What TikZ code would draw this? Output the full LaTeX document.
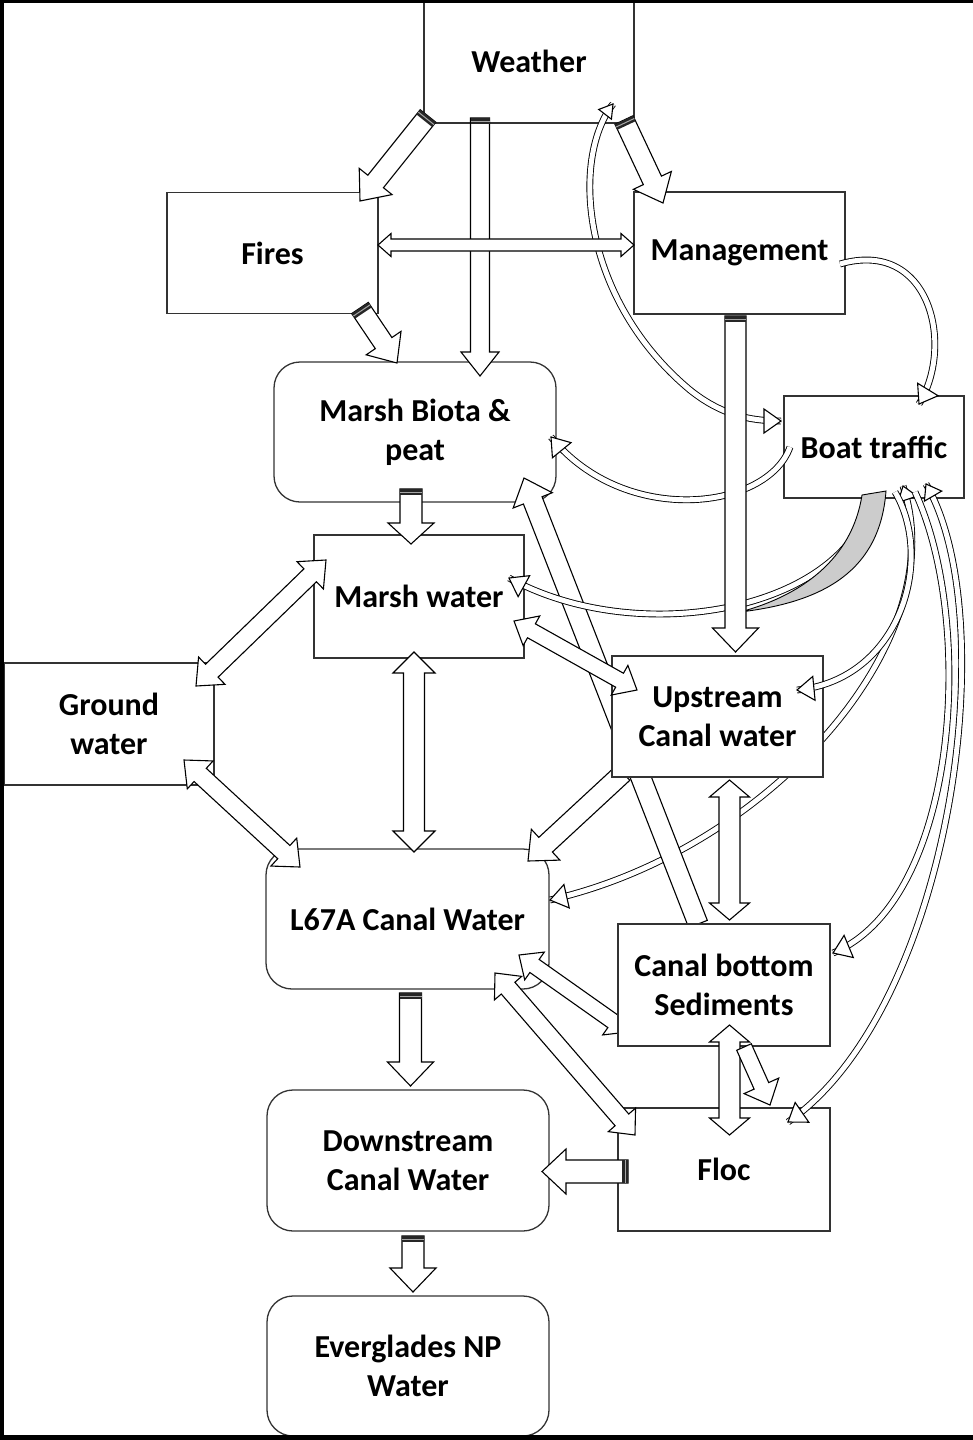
\documentclass[tikz,border=0pt]{standalone}
\usepackage{fontspec}
\setmainfont{Carlito}
\usetikzlibrary{calc}
\tikzset{
  box/.style={draw=black!80, line width=1.3pt, fill=white, rectangle, inner sep=0pt, align=center, font=\bfseries\fontsize{32}{39}\selectfont},
  rbox/.style={box, rounded corners=26pt},
  blk/.style={draw=black, fill=white, line width=1.1pt, line join=miter},
  tube/.style={draw=black, double=white, double distance=5pt, line width=0.9pt},
  crescent/.style={draw=black, fill=gray!40, line width=0.9pt},
}
% single block arrow: tail, tip, half shaft, half head, head length
\newcommand\sarr[5]{%
  \coordinate (bA) at ($(#2)!#5!(#1)$);
  \draw[blk] ($(#1)!#3!90:(#2)$) -- ($(bA)!#3!-90:(#1)$) -- ($(bA)!#4!-90:(#1)$) -- (#2) -- ($(bA)!#4!90:(#1)$) -- ($(bA)!#3!90:(#1)$) -- ($(#1)!#3!-90:(#2)$) -- cycle;
}
% double block arrow
\newcommand\darr[5]{%
  \coordinate (bA) at ($(#2)!#5!(#1)$);
  \coordinate (bB) at ($(#1)!#5!(#2)$);
  \draw[blk] (#1) -- ($(bB)!#4!90:(#2)$) -- ($(bB)!#3!90:(#2)$) -- ($(bA)!#3!-90:(#1)$) -- ($(bA)!#4!-90:(#1)$) -- (#2) -- ($(bA)!#4!90:(#1)$) -- ($(bA)!#3!90:(#1)$) -- ($(bB)!#3!-90:(#2)$) -- ($(bB)!#4!-90:(#2)$) -- cycle;
}
% dark band at the tail of an arrow
\newcommand\band[3]{%
  \coordinate (bC) at ($(#1)!6pt!(#2)$);
  \coordinate (bD) at ($(#1)!3pt!(#2)$);
  \fill[black!85] ($(#1)!#3!90:(#2)$) -- ($(#1)!#3!-90:(#2)$) -- ($(bC)!#3!90:(#1)$) -- ($(bC)!#3!-90:(#1)$) -- cycle;
  \draw[black!35, line width=1pt] ($(bD)!#3!90:(#2)$) -- ($(bD)!#3!-90:(#2)$);
}
% head of a curved tube arrow: direction point, tip, half width, length
\newcommand\chead[4]{%
  \coordinate (bE) at ($(#2)!#4!(#1)$);
  \draw[blk] (#2) -- ($(bE)!#3!90:(#2)$) -- ($(bE)!#3!-90:(#2)$) -- cycle;
}
\begin{document}
\begin{tikzpicture}[x=1pt, y=-1pt]
\useasboundingbox (0,0) rectangle (973,1440);
\fill[white] (0,0) rectangle (973,1440);

% ---- boxes (first group)
\node[box, minimum width=210pt, minimum height=123pt] (weather) at (529,61.5) {Weather};
\node[box, minimum width=211pt, minimum height=121pt] (fires) at (272.5,253) {Fires};
\node[box, minimum width=211pt, minimum height=122pt] (mgmt) at (739.5,253) {Management};
\node[rbox, minimum width=282pt, minimum height=140pt] (biota) at (415,432) {Marsh Biota \&\\peat};
\node[box, minimum width=180pt, minimum height=102pt] (boat) at (874,447) {Boat traffic};
\node[box, minimum width=210pt, minimum height=123pt] (mwater) at (419,596.5) {Marsh water};
\node[box, minimum width=210pt, minimum height=122pt] (ground) at (109,724) {Ground\\water};
\node[rbox, minimum width=283pt, minimum height=140pt] (l67a) at (407.5,919) {L67A Canal Water};
\node[rbox, minimum width=282pt, minimum height=141pt] (down) at (408,1160.5) {Downstream\\Canal Water};
\node[rbox, minimum width=282pt, minimum height=140pt] (evg) at (408,1366) {Everglades NP\\Water};
\node[box, minimum width=212pt, minimum height=123pt] (floc) at (724,1169.5) {Floc};

% ---- curve boat -> L67A (behind upstream box)
\coordinate (b6s) at (903,486); \coordinate (b6a) at (955,640);
\coordinate (b6b) at (770,850); \coordinate (b6e) at (550,900);
\draw[tube] (b6s) .. controls (b6a) and (b6b) .. (b6e);
\chead{b6b}{b6e}{12pt}{17pt}
\chead{b6a}{b6s}{10pt}{14pt}

% ---- sediments -> marsh biota, upstream -> L67A (behind upstream box)
\coordinate (a13t) at (698,924); \coordinate (a13h) at (524,478);
\sarr{a13t}{a13h}{10pt}{21pt}{24pt}
\coordinate (a12t) at (623,773); \coordinate (a12h) at (528,861);
\sarr{a12t}{a12h}{10pt}{21pt}{24pt}

\node[box, minimum width=211pt, minimum height=121pt] (up) at (717.5,716.5) {Upstream\\Canal water};

% ---- L67A <-> sediments (behind sediments box)
\coordinate (a18a) at (519,955); \coordinate (a18b) at (628,1032);
\darr{a18a}{a18b}{8pt}{17pt}{19pt}

\node[box, minimum width=212pt, minimum height=122pt] (sed) at (724,985) {Canal bottom\\Sediments};

% ---- curved tube arrows
% management -> boat traffic
\coordinate (m1s) at (840,264); \coordinate (m1a) at (930,238);
\coordinate (m1b) at (955,345); \coordinate (m1e) at (919,404);
\draw[tube] (m1s) .. controls (m1a) and (m1b) .. (m1e);
\chead{m1b}{m1e}{12pt}{17pt}
% weather <-> boat traffic
\coordinate (w2s) at (613,104); \coordinate (w2a) at (570,160);
\coordinate (w2b) at (582,300); \coordinate (w2m) at (690,390);
\coordinate (w2c) at (720,414); \coordinate (w2d) at (748,421);
\coordinate (w2e) at (781,421);
\draw[tube] (w2s) .. controls (w2a) and (w2b) .. (w2m) .. controls (w2c) and (w2d) .. (w2e);
\chead{w2d}{w2e}{12pt}{17pt}
\chead{w2a}{w2s}{8pt}{13pt}
% boat traffic -> marsh biota
\coordinate (b3s) at (790,447); \coordinate (b3a) at (768,510);
\coordinate (b3b) at (625,528); \coordinate (b3e) at (551,437);
\draw[tube] (b3s) .. controls (b3a) and (b3b) .. (b3e);
\chead{b3b}{b3e}{12pt}{17pt}
% boat traffic -> marsh water (grey)
\coordinate (b4s) at (872,494); \coordinate (b4a) at (850,610);
\coordinate (b4b) at (640,650); \coordinate (b4e) at (509,578);
\draw[tube] (b4s) .. controls (b4a) and (b4b) .. (b4e);
\coordinate (g1) at (862,495); \coordinate (g2) at (886,491);
\coordinate (g3) at (740,612);
\draw[crescent] (g1) -- (g2) .. controls (880,570) and (825,602) .. (g3) .. controls (800,596) and (852,560) .. (g1) -- cycle;
\chead{b4b}{b4e}{12pt}{17pt}
% boat traffic -> upstream
\coordinate (b5s) at (895,492); \coordinate (b5a) at (935,560);
\coordinate (b5b) at (900,680); \coordinate (b5e) at (797,690);
\draw[tube] (b5s) .. controls (b5a) and (b5b) .. (b5e);
\chead{b5b}{b5e}{12pt}{17pt}
% boat traffic -> sediments
\coordinate (b7s) at (915,492); \coordinate (b7a) at (975,620);
\coordinate (b7b) at (960,900); \coordinate (b7e) at (833,953);
\draw[tube] (b7s) .. controls (b7a) and (b7b) .. (b7e);
\chead{b7b}{b7e}{12pt}{17pt}
% boat traffic <-> floc
\coordinate (b8s) at (926,484); \coordinate (b8a) at (1005,620);
\coordinate (b8b) at (950,1010); \coordinate (b8e) at (788,1122);
\draw[tube] (b8s) .. controls (b8a) and (b8b) .. (b8e);
\chead{b8b}{b8e}{12pt}{17pt}
\chead{b8a}{b8s}{10pt}{14pt}

% ---- block arrows
\coordinate (a1t) at (428,116); \coordinate (a1h) at (360,201);
\sarr{a1t}{a1h}{10pt}{21pt}{25pt} \band{a1t}{a1h}{10pt}
\coordinate (a2t) at (480,118); \coordinate (a2h) at (480,376);
\sarr{a2t}{a2h}{9.5pt}{19pt}{24pt} \band{a2t}{a2h}{9.5pt}
\coordinate (a3t) at (624,120); \coordinate (a3h) at (663,203);
\sarr{a3t}{a3h}{10pt}{21pt}{25pt} \band{a3t}{a3h}{10pt}
\coordinate (a4a) at (378,245); \coordinate (a4b) at (634,245);
\darr{a4a}{a4b}{6pt}{11.5pt}{13pt}
\coordinate (a5t) at (360,308); \coordinate (a5h) at (397,363);
\sarr{a5t}{a5h}{10pt}{21pt}{24pt} \band{a5t}{a5h}{10pt}
\coordinate (a6t) at (735.5,316); \coordinate (a6h) at (735.5,652);
\sarr{a6t}{a6h}{10.5pt}{23pt}{24pt} \band{a6t}{a6h}{10.5pt}
\coordinate (a7t) at (411,489); \coordinate (a7h) at (411,544);
\sarr{a7t}{a7h}{11pt}{23pt}{21pt} \band{a7t}{a7h}{11pt}
\coordinate (a8a) at (414,652); \coordinate (a8b) at (414,852);
\darr{a8a}{a8b}{10.5pt}{21pt}{21pt}
\coordinate (a9a) at (196,686); \coordinate (a9b) at (326,560);
\darr{a9a}{a9b}{9pt}{19pt}{22pt}
\coordinate (a10a) at (184,760); \coordinate (a10b) at (300,867);
\darr{a10a}{a10b}{9pt}{19pt}{22pt}
\coordinate (a11a) at (514,621); \coordinate (a11b) at (637,690);
\darr{a11a}{a11b}{8pt}{17pt}{20pt}
\coordinate (a14a) at (729.5,780); \coordinate (a14b) at (729.5,920);
\darr{a14a}{a14b}{10.5pt}{20pt}{17pt}
\coordinate (a15a) at (729.5,1025); \coordinate (a15b) at (729.5,1135);
\darr{a15a}{a15b}{10.5pt}{20pt}{17pt}
\coordinate (a16t) at (744,1047); \coordinate (a16h) at (770,1105);
\sarr{a16t}{a16h}{8pt}{19pt}{21pt}
\coordinate (a17a) at (495,973); \coordinate (a17b) at (635,1135);
\darr{a17a}{a17b}{9pt}{18pt}{20pt}
\coordinate (a19t) at (410.5,993); \coordinate (a19h) at (410.5,1086);
\sarr{a19t}{a19h}{11pt}{23pt}{24pt} \band{a19t}{a19h}{11pt}
\coordinate (a20t) at (628,1171.5); \coordinate (a20h) at (542,1171.5);
\sarr{a20t}{a20h}{11.5pt}{22.5pt}{24pt} \band{a20t}{a20h}{11.5pt}
\coordinate (a21t) at (413,1236); \coordinate (a21h) at (413,1292);
\sarr{a21t}{a21h}{11pt}{23pt}{24pt} \band{a21t}{a21h}{11pt}

% ---- black frame strips
\fill[black] (0,0) rectangle (973,3);
\fill[black] (0,0) rectangle (4,1440);
\fill[black] (0,1435) rectangle (973,1440);
\end{tikzpicture}
\end{document}
